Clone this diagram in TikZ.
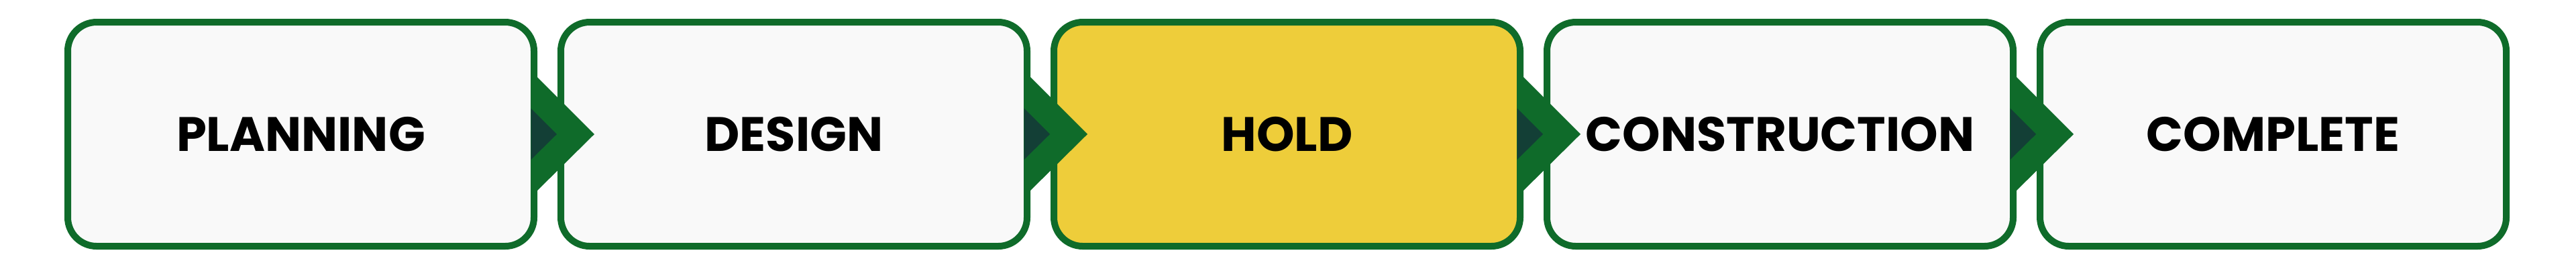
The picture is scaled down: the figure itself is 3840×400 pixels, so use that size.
\documentclass[tikz,border=0pt]{standalone}
\usepackage{fontspec}
\setmainfont{Poppins}
\usetikzlibrary{calc}
\definecolor{bordergreen}{HTML}{0F6B2A}
\definecolor{darkgreen}{HTML}{133F36}
\definecolor{holdyellow}{HTML}{EECD3A}
\definecolor{boxfill}{HTML}{F9F9F9}
\begin{document}
\begin{tikzpicture}[x=0.25pt,y=-0.25pt,
  stage/.style={draw=bordergreen, line width=2.5pt, fill=boxfill, rounded corners=10.75pt,
    minimum width=173.75pt, minimum height=83.5pt, inner sep=0pt, outer sep=0pt,
    font=\fontsize{18pt}{21pt}\selectfont\bfseries},
  chev/.style={fill=bordergreen, draw=none},
  chevin/.style={fill=darkgreen, draw=none}]
\useasboundingbox (0,0) rectangle (3840,400);
\node[stage] (s1) at (448.5,200) {PLANNING};
\node[stage] (s2) at (1183.5,200) {DESIGN};
\node[stage, fill=holdyellow] (s3) at (1918.5,200) {HOLD};
\node[stage] (s4) at (2653.5,200) {CONSTRUCTION};
\node[stage] (s5) at (3388.5,200) {COMPLETE};
\foreach \a/\b in {s1/s2,s2/s3,s3/s4,s4/s5}{
  \fill[chev] ($(\a.east)+(5,-85)$) -- ($(\b.west)+(50,0)$) -- ($(\a.east)+(5,84)$) -- cycle;
  \fill[chevin] ($(\a.east)+(-4.5,-38.5)$) -- ($(\a.east)+(34,0)$) -- ($(\a.east)+(-4.5,38)$) -- cycle;
}
\end{tikzpicture}
\end{document}
